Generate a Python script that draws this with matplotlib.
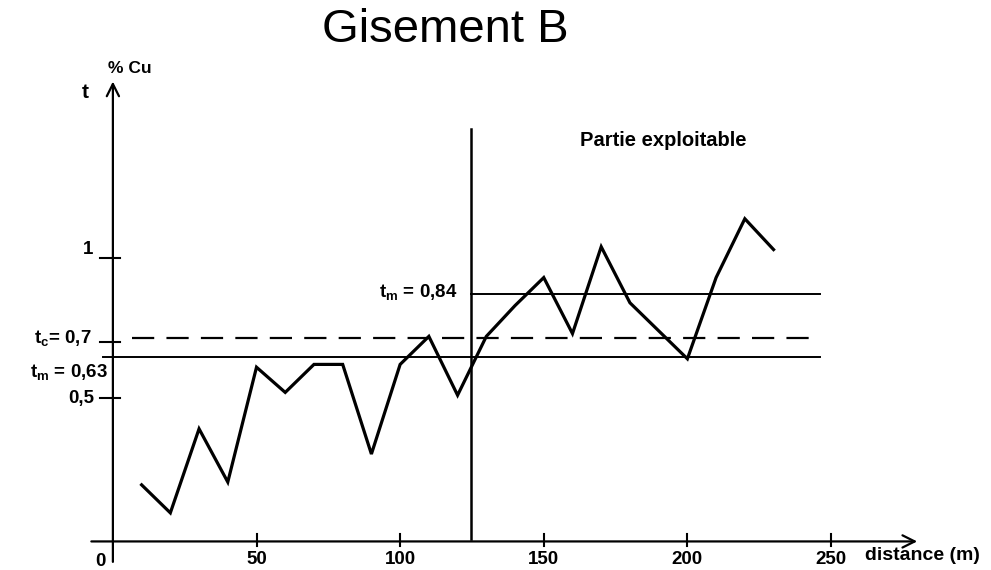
import matplotlib.pyplot as plt

plt.rcParams['font.family'] = ['Liberation Sans', 'DejaVu Sans']
plt.rcParams['mathtext.fontset'] = 'custom'
plt.rcParams['mathtext.rm'] = 'Liberation Sans'
plt.rcParams['mathtext.bf'] = 'Liberation Sans:bold'

distance = [10, 20, 30, 40, 50, 60, 70, 80, 90, 100, 110, 120,
            130, 140, 150, 160, 170, 180, 190, 200, 210, 220, 230]
teneur = [0.19, 0.09, 0.39, 0.20, 0.61, 0.52, 0.62, 0.62, 0.30, 0.62, 0.72, 0.51,
          0.72, 0.83, 0.93, 0.73, 1.04, 0.84, 0.74, 0.64, 0.93, 1.14, 1.03]

x_ticks = [50, 100, 150, 200, 250]
x_tick_labels = ['50', '100', '150', '200', '250']
y_ticks = [0.5, 0.7, 1.0]

# niveaux tracés (t_m global, t_c coupure, t_m partie exploitable)
tm_all = 0.645
tc = 0.715
tm_expl = 0.87
x_limit = 124.5      # début de la partie exploitable
x_end = 246

fig = plt.figure(figsize=(9.91, 5.70), dpi=100)
ax = fig.add_axes([0, 0, 1, 1])
ax.set_xlim(-39.3, 305.7)
ax.set_ylim(-0.114, 1.921)
ax.axis('off')

# axes avec flèches
ax.annotate('', xy=(280, -0.012), xytext=(-7.5, -0.012),
            arrowprops=dict(arrowstyle='->', lw=1.6, color='black',
                            mutation_scale=22, shrinkA=0, shrinkB=0))
ax.annotate('', xy=(0, 1.63), xytext=(0, -0.085),
            arrowprops=dict(arrowstyle='->', lw=1.6, color='black',
                            mutation_scale=22, shrinkA=0, shrinkB=0))

for xt, lab in zip(x_ticks, x_tick_labels):
    ax.plot([xt, xt], [-0.03, 0.015], color='black', lw=1.5)
    ax.text(xt, -0.078, lab, ha='center', va='center', fontsize=13.5, fontweight='bold')
ax.text(-4.5, -0.082, '0', ha='center', va='center', fontsize=13.5, fontweight='bold')
for yt in y_ticks:
    ax.plot([-4.5, 2.5], [yt, yt], color='black', lw=1.5)

ax.text(262, -0.062, 'distance (m)', ha='left', va='center', fontsize=14, fontweight='bold')
ax.text(-9.7, 1.59, 't', ha='center', va='center', fontsize=15, fontweight='bold')
ax.text(6.0, 1.675, '% Cu', ha='center', va='center', fontsize=12.5, fontweight='bold')

ax.text(-7, 1.03, '1', ha='right', va='center', fontsize=13.5, fontweight='bold')
ax.text(-6.5, 0.5, '0,5', ha='right', va='center', fontsize=13.5, fontweight='bold')
ax.text(-7.5, 0.71, r'$\mathbf{t}_{\mathbf{c}}$= 0,7', ha='right', va='center',
        fontsize=13.5, fontweight='bold')
ax.text(-1.8, 0.59, r'$\mathbf{t}_{\mathbf{m}}$ = 0,63', ha='right', va='center',
        fontsize=13.5, fontweight='bold')
ax.text(120, 0.875, r'$\mathbf{t}_{\mathbf{m}}$ = 0,84', ha='right', va='center',
        fontsize=13.5, fontweight='bold')
ax.text(162.5, 1.42, 'Partie exploitable', ha='left', va='center',
        fontsize=14.5, fontweight='bold')

# lignes de référence
ax.plot([-3.5, x_end], [tm_all, tm_all], color='black', lw=1.4)
ax.plot([6.5, x_end], [tc, tc], color='black', lw=1.6, dashes=(10, 5.5))
ax.plot([x_limit, x_end], [tm_expl, tm_expl], color='black', lw=1.4)
ax.plot([x_limit, x_limit], [-0.005, 1.46], color='black', lw=1.8)

# profil de teneur
ax.plot(distance, teneur, color='black', lw=2.3, solid_joinstyle='miter')

fig.text(445 / 991, 1 - 30 / 570, 'Gisement B', ha='center', va='center', fontsize=34)

plt.savefig('out.png', dpi=100)
